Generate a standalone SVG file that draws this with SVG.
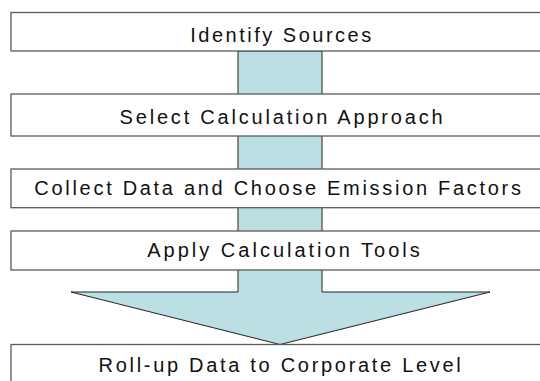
<svg xmlns="http://www.w3.org/2000/svg" width="540" height="381" viewBox="0 0 540 381">
  <style>
    .box { fill: #ffffff; stroke: #5a5a5a; stroke-width: 1.3; }
    .label { font-family: "Liberation Sans", Arial, sans-serif; font-size: 20px; letter-spacing: 2.5px; fill: #111111; text-anchor: middle; }
    .flow { fill: #bbe0e3; stroke: #222222; stroke-width: 1; stroke-linejoin: miter; }
  </style>
  <rect x="0" y="0" width="540" height="381" fill="#ffffff"/>

  <!-- flow arrow running behind the step boxes -->
  <g id="connectors">
    <polygon class="flow" points="238,51 322,51 322,292 490,292 280,344.5 71,292 238,292"/>
  </g>

  <g id="step-identify">
    <rect class="box" x="11" y="12.5" width="540" height="38.5"/>
    <text class="label" x="282" y="41.7">Identify Sources</text>
  </g>
  <g id="step-select">
    <rect class="box" x="11" y="94" width="540" height="42"/>
    <text class="label" x="282.5" y="124" style="letter-spacing:2.8px">Select Calculation Approach</text>
  </g>
  <g id="step-collect">
    <rect class="box" x="11" y="169" width="540" height="38.7"/>
    <text class="label" x="279" y="195" style="letter-spacing:2.7px">Collect Data and Choose Emission Factors</text>
  </g>
  <g id="step-apply">
    <rect class="box" x="11" y="231" width="540" height="39"/>
    <text class="label" x="285" y="257" style="letter-spacing:3px">Apply Calculation Tools</text>
  </g>
  <g id="step-rollup">
    <rect class="box" x="11" y="344.5" width="540" height="50"/>
    <text class="label" x="281" y="371.7" style="letter-spacing:2.7px">Roll-up Data to Corporate Level</text>
  </g>
</svg>
